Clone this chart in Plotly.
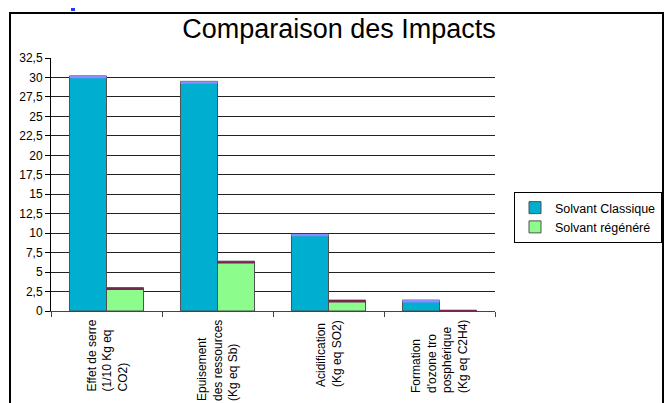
import plotly.graph_objects as go

categories = [
    "Effet de serre<br>(1/10 Kg eq<br>CO2)",
    "Epuisement<br>des ressources<br>(Kg eq Sb)",
    "Acidification<br>(Kg eq SO2)",
    "Formation<br>d'ozone tro<br>posphérique<br>(Kg eq C2H4)",
]
series_names = ["Solvant Classique", "Solvant régénéré"]
classique = [30.2, 29.5, 9.9, 1.4]
regenere = [3.0, 6.4, 1.4, 0.1]
y_ticks = [0, 2.5, 5, 7.5, 10, 12.5, 15, 17.5, 20, 22.5, 25, 27.5, 30, 32.5]

front_colors = ["#00AECF", "#8CFC8C"]
top_colors = ["#8C8CFF", "#7A2450"]
cap = 0.3
FONT = "Liberation Sans, Arial"

# page body margin offset (8px) -> work in screen coordinates
OFF = 8
FW, FH = 672 - OFF, 403 - OFF
scr_left, scr_right, scr_top, scr_bottom = 51, 495, 58, 311
L = scr_left - OFF
T = scr_top - OFF
R = FW - (scr_right - OFF)
B = FH - (scr_bottom - OFF)
W = scr_right - scr_left
H = scr_bottom - scr_top


def px_x(sx):
    return (sx - scr_left) / W


def px_y(sy):
    return (scr_bottom - sy) / H


fig = go.Figure()
for name, vals, fc, tc, grp in [
    (series_names[0], classique, front_colors[0], top_colors[0], "c"),
    (series_names[1], regenere, front_colors[1], top_colors[1], "r"),
]:
    fig.add_trace(go.Bar(
        x=categories, y=vals, name=name, offsetgroup=grp, legendgroup=grp,
        marker=dict(color=fc, line=dict(color="#505050", width=1)),
    ))
    caps = [min(cap, v) for v in vals]
    fig.add_trace(go.Bar(
        x=categories, y=caps, base=[v - c for v, c in zip(vals, caps)],
        offsetgroup=grp, legendgroup=grp, showlegend=False,
        marker=dict(color=tc, line=dict(width=0)), hoverinfo="skip",
    ))

annotations = [
    dict(x=c, xref="x", y=px_y(318), yref="paper", text=c, showarrow=False,
         textangle=-90, xanchor="center", yanchor="top", align="left",
         font=dict(family=FONT, size=12, color="black"))
    for c in categories
]

fig.update_layout(
    width=FW, height=FH,
    margin=dict(l=L, r=R, t=T, b=B, autoexpand=False),
    paper_bgcolor="white", plot_bgcolor="white",
    separators=", ",
    barmode="group", bargap=0.333, bargroupgap=0,
    font=dict(family=FONT, size=12, color="black"),
    title=dict(text="Comparaison des Impacts", x=(339 - OFF) / FW, xanchor="center",
               y=1 - (29 - OFF) / FH, yanchor="middle",
               font=dict(size=27, color="black", family=FONT)),
    legend=dict(x=px_x(514), y=px_y(192), xanchor="left", yanchor="top",
                bordercolor="black", borderwidth=1, bgcolor="white",
                font=dict(size=12.5, family=FONT), itemwidth=30, tracegroupgap=0),
    annotations=annotations,
    xaxis=dict(type="category", showticklabels=False, showline=True, linecolor="#444",
               linewidth=1, ticks="outside", tickson="boundaries", ticklen=5,
               tickcolor="#444", showgrid=False),
    yaxis=dict(range=[0, 32.5], tickvals=y_ticks, showline=True, linecolor="black",
               linewidth=1, ticks="outside", ticklen=5, tickcolor="black",
               showgrid=True, gridcolor="#222", gridwidth=1, zeroline=False,
               tickfont=dict(size=12, family=FONT)),
    shapes=[
        dict(type="rect", xref="paper", yref="paper",
             x0=px_x(10), x1=px_x(663), y0=px_y(430), y1=px_y(13),
             line=dict(color="black", width=2), layer="below"),
        dict(type="line", xref="paper", yref="paper",
             x0=px_x(73), x1=px_x(73), y0=px_y(OFF), y1=px_y(11),
             line=dict(color="#1E3CFF", width=4)),
    ],
)

fig.write_html("out.html")
